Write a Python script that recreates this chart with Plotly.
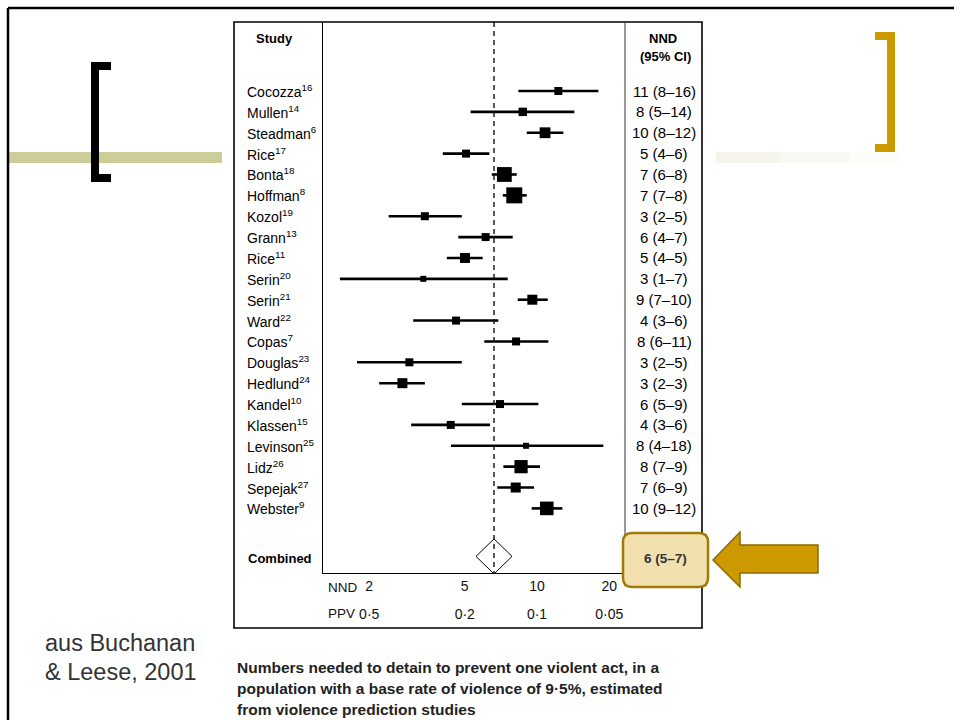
import plotly.graph_objects as go
import math

# ---------------- data ----------------
studies = ["Cocozza", "Mullen", "Steadman", "Rice", "Bonta", "Hoffman", "Kozol",
           "Grann", "Rice", "Serin", "Serin", "Ward", "Copas", "Douglas", "Hedlund",
           "Kandel", "Klassen", "Levinson", "Lidz", "Sepejak", "Webster"]
refs = ["16", "14", "6", "17", "18", "8", "19", "13", "11", "20", "21", "22", "7",
        "23", "24", "10", "15", "25", "26", "27", "9"]
nnd = [12.27, 8.72, 10.80, 5.06, 7.31, 8.04, 3.41, 6.11, 5.01, 3.36, 9.56, 4.60,
       8.18, 2.94, 2.75, 7.01, 4.37, 9.00, 8.58, 8.15, 10.98]
ci_lo = [8.36, 5.29, 9.06, 4.05, 6.48, 7.20, 2.41, 4.70, 4.21, 1.51, 8.31, 3.05,
         6.03, 1.78, 2.20, 4.86, 2.99, 4.38, 7.24, 6.83, 9.50]
ci_hi = [18.01, 14.30, 12.87, 6.33, 8.23, 9.06, 4.86, 7.92, 5.94, 7.55, 11.08, 6.90,
         11.15, 4.86, 3.41, 10.13, 6.37, 18.89, 10.29, 9.72, 12.75]
nnd_text = ["11 (8–16)", "8 (5–14)", "10 (8–12)", "5 (4–6)", "7 (6–8)", "7 (7–8)",
            "3 (2–5)", "6 (4–7)", "5 (4–5)", "3 (1–7)", "9 (7–10)", "4 (3–6)",
            "8 (6–11)", "3 (2–5)", "3 (2–3)", "6 (5–9)", "4 (3–6)", "8 (4–18)",
            "8 (7–9)", "7 (6–9)", "10 (9–12)"]
weights = [1.0, 1.05, 1.35, 1.0, 1.85, 2.0, 1.0, 1.0, 1.25, 0.75, 1.25, 1.0, 1.0,
           1.0, 1.25, 1.0, 1.0, 0.75, 1.65, 1.25, 1.7]
combined = {"label": "Combined", "nnd": 6.62, "lo": 5.57, "hi": 7.87, "text": "6 (5–7)"}
nnd_ticks = [2, 5, 10, 20]
ppv_ticks = [0.5, 0.2, 0.1, 0.05]
source_lines = ["aus Buchanan", "& Leese, 2001"]
caption_lines = ["Numbers needed to detain to prevent one violent act, in a",
                 "population with a base rate of violence of 9·5%, estimated",
                 "from violence prediction studies"]

# ---------------- geometry helpers ----------------
W, H = 954, 720
def px(x):
    return x / W
def py(y):
    return 1 - y / H

PLOT_L, PLOT_R, PLOT_T, PLOT_B = 323, 625, 22, 573
ROW0, PITCH = 91.0, 20.87
n = len(studies)
rows = list(range(n))
comb_row = n + 1.3
y_top = (PLOT_T - ROW0) / PITCH
y_bot = (PLOT_B - ROW0) / PITCH

FONT = "Liberation Sans, Arial, sans-serif"
fig = go.Figure()

# study squares + CI lines
fig.add_trace(go.Scatter(
    x=nnd, y=rows, mode="markers",
    marker=dict(symbol="square", size=[8 * w for w in weights], color="black",
                opacity=1, line=dict(width=0)),
    error_x=dict(type="data", symmetric=False,
                 array=[h - p for h, p in zip(ci_hi, nnd)],
                 arrayminus=[p - l for p, l in zip(nnd, ci_lo)],
                 thickness=2.6, width=0, color="black"),
    hoverinfo="skip", showlegend=False))

# combined diamond
half = 0.84
fig.add_trace(go.Scatter(
    x=[combined["lo"], combined["nnd"], combined["hi"], combined["nnd"], combined["lo"]],
    y=[comb_row, comb_row - half, comb_row, comb_row + half, comb_row],
    mode="lines", fill="toself", fillcolor="white",
    line=dict(color="black", width=1), hoverinfo="skip", showlegend=False))

# dashed reference line
fig.add_trace(go.Scatter(
    x=[combined["nnd"], combined["nnd"]], y=[y_top, y_bot], mode="lines",
    line=dict(color="#111", width=1.4, dash="5px,4px"),
    hoverinfo="skip", showlegend=False))

# invisible trace on PPV axis
fig.add_trace(go.Scatter(x=[1 / ppv_ticks[0]], y=[0], xaxis="x2", mode="markers",
                         marker=dict(opacity=0), hoverinfo="skip", showlegend=False))

x_range = [math.log10(1.284), math.log10(23.25)]

fig.update_layout(
    width=W, height=H, margin=dict(l=0, r=0, t=0, b=0),
    paper_bgcolor="white", plot_bgcolor="white",
    font=dict(family=FONT, color="black"),
    xaxis=dict(type="log", domain=[px(PLOT_L), px(PLOT_R)], range=x_range,
               showgrid=False, zeroline=False, showline=True, linecolor="black",
               linewidth=1.2, ticks="", tickvals=nnd_ticks,
               ticktext=[str(t) for t in nnd_ticks],
               tickfont=dict(size=14, family=FONT, color="#111"), anchor="y"),
    xaxis2=dict(type="log", domain=[px(PLOT_L), px(PLOT_R)], range=x_range,
                overlaying="x", anchor="free", position=py(604), side="bottom",
                showgrid=False, zeroline=False, showline=False, ticks="",
                tickvals=[1 / p for p in ppv_ticks],
                ticktext=[f"{p:g}".replace(".", "·") for p in ppv_ticks],
                tickfont=dict(size=14, family=FONT, color="#111")),
    yaxis=dict(domain=[py(PLOT_B), py(PLOT_T)], range=[y_bot, y_top],
               showgrid=False, zeroline=False, showline=True, linecolor="black",
               linewidth=1.2, showticklabels=False, ticks=""),
    hovermode=False,
)

shapes = []
def line(x0, y0, x1, y1, color="black", width=1.0):
    shapes.append(dict(type="line", xref="paper", yref="paper",
                       x0=px(x0), y0=py(y0), x1=px(x1), y1=py(y1),
                       line=dict(color=color, width=width), layer="above"))
def rect(x0, y0, x1, y1, fill, lc=None, lw=0):
    shapes.append(dict(type="rect", xref="paper", yref="paper",
                       x0=px(x0), y0=py(y0), x1=px(x1), y1=py(y1),
                       fillcolor=fill, line=dict(color=lc or fill, width=lw),
                       layer="below"))
def poly(pts, fill, lc=None, lw=0, layer="above"):
    d = "M " + " L ".join(f"{px(x):.5f},{py(y):.5f}" for x, y in pts) + " Z"
    shapes.append(dict(type="path", xref="paper", yref="paper", path=d,
                       fillcolor=fill, line=dict(color=lc or fill, width=lw),
                       layer=layer))

# slide frame
line(8, 8, W, 8, width=2.5)
line(8, 8, 8, H, width=2.5)
# olive bar & faint right bar
rect(8, 152, 222, 163, "#CDCD99")
rect(716, 152, 780, 163, "#F5F5EC")
rect(780, 152, 850, 163, "#F9F9F3")
rect(850, 152, 900, 163, "#FCFCF9")
# black bracket
poly([(91, 62), (111, 62), (111, 70), (99, 70), (99, 174), (111, 174), (111, 182),
      (91, 182)], "black", layer="below")
# gold bracket
poly([(875, 32), (895, 32), (895, 152), (875, 152), (875, 144), (887, 144),
      (887, 40), (875, 40)], "#CC9900", layer="below")
# figure box and right plot border
shapes.append(dict(type="rect", xref="paper", yref="paper", x0=px(234), y0=py(22),
                   x1=px(702), y1=py(628), line=dict(color="black", width=1.6),
                   fillcolor="rgba(0,0,0,0)", layer="above"))
line(PLOT_R, PLOT_T, PLOT_R, PLOT_B, color="#333", width=1.0)

# highlight box (rounded)
x0, y0, x1, y1, r = 623, 533, 708, 587, 9
def rr_path(x0, y0, x1, y1, r):
    return (f"M {px(x0 + r)},{py(y0)} L {px(x1 - r)},{py(y0)} "
            f"Q {px(x1)},{py(y0)} {px(x1)},{py(y0 + r)} L {px(x1)},{py(y1 - r)} "
            f"Q {px(x1)},{py(y1)} {px(x1 - r)},{py(y1)} L {px(x0 + r)},{py(y1)} "
            f"Q {px(x0)},{py(y1)} {px(x0)},{py(y1 - r)} L {px(x0)},{py(y0 + r)} "
            f"Q {px(x0)},{py(y0)} {px(x0 + r)},{py(y0)} Z")
shapes.append(dict(type="path", xref="paper", yref="paper",
                   path=rr_path(x0, y0, x1, y1, r), fillcolor="#F2E0AE",
                   line=dict(color="#A07A08", width=2.5), layer="above"))
# arrow
poly([(713, 560), (740, 532), (740, 545), (818, 545), (818, 573), (740, 573),
      (740, 587)], "#CC9900", lc="#8C6A00", lw=1.5)

fig.update_layout(shapes=shapes)

ann = []
def text(x, y, s, size=13.5, anchor="left", bold=False, color="black", yanchor="middle"):
    ann.append(dict(x=px(x), y=py(y), xref="paper", yref="paper", showarrow=False,
                    text=f"<b>{s}</b>" if bold else s, xanchor=anchor, yanchor=yanchor,
                    font=dict(family=FONT, size=size, color=color)))

text(254, 38, "Study", size=13, bold=True)
text(663, 38, "NND", size=13, anchor="center", bold=True)
text(665, 57, "(95% CI)", size=13, anchor="center", bold=True)
for i, (s, rf, t) in enumerate(zip(studies, refs, nnd_text)):
    yy = ROW0 + rows[i] * PITCH
    text(245, yy, f"{s}<sup>{rf}</sup>", size=14)
    text(664, yy, t, size=15, anchor="center")
yc = ROW0 + comb_row * PITCH
text(246, yc + 2, combined["label"], size=13, bold=True)
text(665, yc + 2, combined["text"], size=13.5, anchor="center", bold=True, color="#333")
text(326, 587, "NND", size=13.5, color="#111")
text(326, 613, "PPV", size=13.5, color="#111")
for k, s in enumerate(source_lines):
    text(43, 643 + 29 * k, s, size=23.5, color="#333")
for k, s in enumerate(caption_lines):
    text(235, 667 + 21 * k, s, size=15.5, bold=True, color="#222")

fig.update_layout(annotations=ann)
fig.write_html("out.html")
